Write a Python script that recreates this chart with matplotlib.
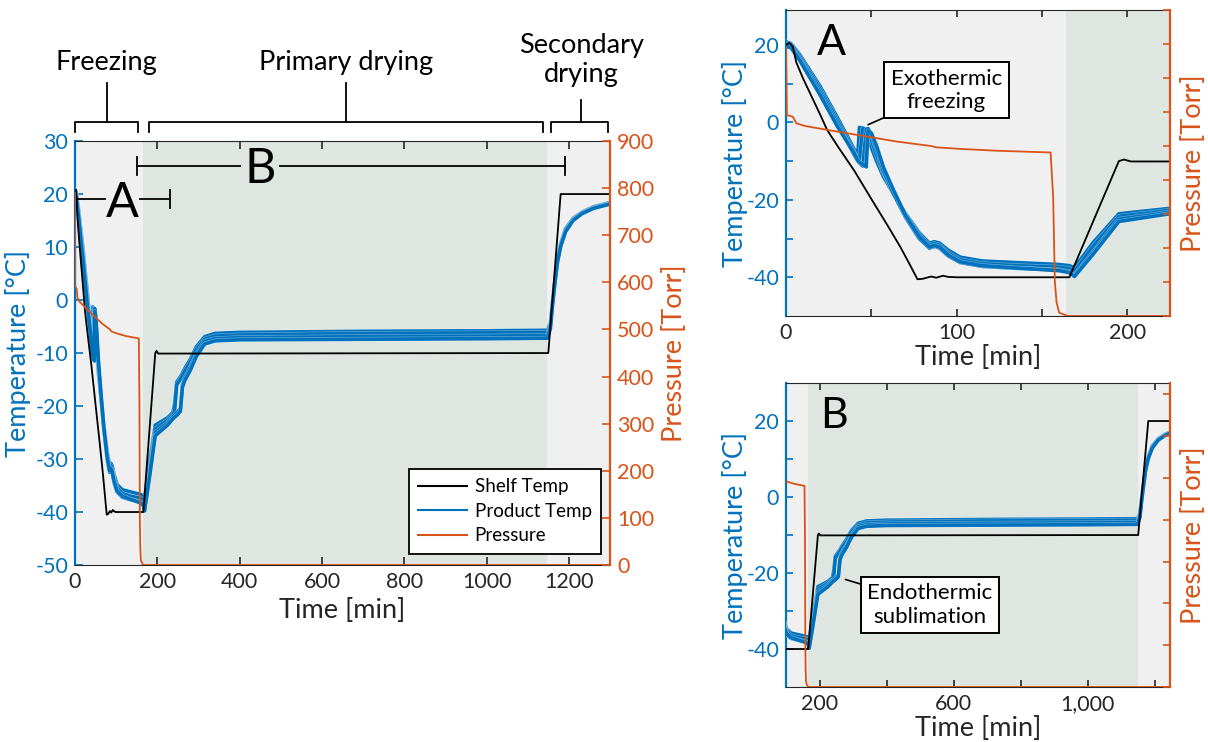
import matplotlib
matplotlib.use('Agg')
import matplotlib.pyplot as plt
import matplotlib.patheffects as pe
import matplotlib.transforms as mtransforms

plt.rcParams['font.family'] = ['Lato', 'DejaVu Sans']
plt.rcParams['axes.unicode_minus'] = False

BLUE = '#0072BD'
ORANGE = '#D95319'
DARK = '#262626'
LIGHT_BG = '#F0F0F0'
PRIMARY_BG = '#DFE6E2'

# shelf temperature [min], [degC]
shelf_t = [0, 2, 4, 6, 10, 20, 24, 30, 40, 50, 55, 60, 67, 72, 77, 80, 85, 88, 92, 95, 100, 130,
           166, 180, 195, 198, 202, 1147, 1150, 1180, 1300]
shelf_T = [20, 20.5, 19.5, 15.5, 11.3, 2, -1.9, -6, -12.5, -19.8, -23.4, -27, -32.2, -36.3, -40.5,
           -40.4, -39.8, -40.1, -39.6, -39.9, -40, -40, -40, -25.5, -10, -9.6, -10.1, -10, -10, 20, 20]

# product temperature, four probes
prod_t = [0, 3, 8, 20, 30, 40, 42, 43, 45, 47,
          48, 50, 53, 57, 63, 70, 78, 84, 87, 90,
          95, 102, 115, 135, 160, 166, 169, 180, 195, 225,
          238, 242, 247, 256, 261, 266, 280, 295, 315, 340,
          400, 700, 1000, 1148, 1155, 1160, 1165, 1172, 1180, 1192,
          1210, 1232, 1260, 1300]
prod_1 = [20.8, 20.3, 17.5, 9.3, 1.3, -7.0, -8.8, -1.3, -1.5, -2.5,
          -3.5, -6.5, -10, -14, -18.5, -23.5, -28.5, -31.2, -30.8, -31.2,
          -33, -34.8, -35.8, -36.2, -36.7, -37, -37.5, -31, -23.6, -22.2,
          -21.2, -19.5, -15.5, -14.5, -13.8, -13, -11.2, -8.8, -6.9, -6.3,
          -6.1, -5.9, -5.8, -5.7, -4.2, -0.3, 3.2, 7.7, 10.7, 13.5,
          15.4, 16.6, 17.6, 18.4]
prod_2 = [20.4, 20, 17, 8.5, 0.5, -7.8, -9.5, -10, -1.5, -1.8,
          -2.5, -4.5, -8.5, -13, -18, -23.8, -29, -31.8, -31.3, -31.8,
          -33.8, -35.5, -36.5, -37, -37.4, -37.8, -38.5, -32, -24.3, -22.7,
          -21.6, -21, -16, -15, -14.3, -13.5, -11.8, -9.3, -7.4, -6.8,
          -6.6, -6.3, -6.2, -6.1, -4.6, -0.6, 3, 7.5, 10.5, 13.3,
          15.2, 16.5, 17.5, 18.3]
prod_3 = [20, 19.6, 16.4, 7.8, -0.3, -8.5, -10, -10.5, -11.3, -1.8,
          -1.6, -3, -7, -12.5, -18.5, -24.5, -30, -32.5, -32, -32.5,
          -34.5, -36.2, -37.2, -37.7, -38.1, -38.6, -39.5, -33.5, -25, -23.2,
          -22, -21.7, -21.3, -20.5, -16, -14.8, -12.8, -10.2, -7.8, -7.3,
          -7.1, -6.9, -6.8, -6.7, -5, -0.9, 2.7, 7.2, 10.3, 13.1,
          15.1, 16.4, 17.4, 18.2]
prod_4 = [19.6, 19.2, 16, 7, -1, -8, -9.8, -10.3, -10.8, -11.5,
          -2.2, -2.8, -6, -11.5, -17.5, -24, -29.5, -32.2, -31.8, -32.2,
          -34.2, -36, -37, -37.6, -38.3, -38.8, -39.8, -34, -25.6, -23.6,
          -22.4, -22.1, -21.8, -21, -16.5, -15.3, -13.3, -10.6, -8.3, -7.7,
          -7.5, -7.4, -7.3, -7.2, -5.4, -1.2, 2.4, 7, 10.1, 12.9,
          15, 16.3, 17.3, 18.1]
products = [prod_1, prod_2, prod_3, prod_4]

# chamber pressure [Torr]
press_t = [0, 0.5, 4, 6, 11, 27, 46, 65, 85, 88, 104, 124, 155, 156.5, 157.5, 158.5, 160, 165, 1300]
press_v = [790, 591, 586, 567, 559, 545, 529, 513, 500, 496, 491, 486, 481, 350, 100, 40, 10, 0.1, 0.1]

# phase boundaries [min]
freeze_end = 164
primary_end = 1148
run_end = 1300


def shade_phases(ax):
    ax.axvspan(0, freeze_end, color=LIGHT_BG, lw=0, zorder=0)
    ax.axvspan(freeze_end, primary_end, color=PRIMARY_BG, lw=0, zorder=0)
    ax.axvspan(primary_end, run_end + 100, color=LIGHT_BG, lw=0, zorder=0)


def draw_traces(ax, ax2):
    halo = [pe.withStroke(linewidth=3.4, foreground='white', alpha=0.45)]
    for k, temps in enumerate(products):
        ax.plot(prod_t, temps, color=BLUE, lw=2.6, path_effects=halo, zorder=3,
                label='Product Temp' if k == 0 else None)
    ax.plot(shelf_t, shelf_T, color='black', lw=1.3, zorder=4, label='Shelf Temp')
    ax2.plot(press_t, press_v, color=ORANGE, lw=1.3, zorder=5, label='Pressure')


def style_axes(ax, ax2, tick_len):
    for side in ['top', 'bottom']:
        ax.spines[side].set_color(DARK)
        ax2.spines[side].set_visible(False)
    ax.spines['left'].set_color(BLUE)
    ax.spines['left'].set_linewidth(1.6)
    ax.spines['right'].set_visible(False)
    ax2.spines['left'].set_visible(False)
    ax2.spines['right'].set_color(ORANGE)
    ax2.spines['right'].set_linewidth(1.6)
    ax.tick_params(axis='x', direction='in', top=True, colors=DARK, length=tick_len, width=1.2,
                   labelsize=15.5, pad=5)
    ax.tick_params(axis='y', direction='in', colors=BLUE, length=tick_len, width=1.2,
                   labelsize=15.5, pad=5)
    ax2.tick_params(axis='y', direction='in', colors=ORANGE, length=tick_len, width=1.2,
                    labelsize=15.5, pad=5)
    ax.set_xlabel('Time [min]', fontsize=19.5, color=DARK)
    ax.set_ylabel('Temperature [°C]', fontsize=19.5, color=BLUE)
    ax2.set_ylabel('Pressure [Torr]', fontsize=19.5, color=ORANGE)
    ax.xaxis.label.set_va('center')
    ax.yaxis.label.set_va('center')
    ax2.yaxis.label.set_va('center')


fig = plt.figure(figsize=(12.08, 7.42), dpi=100)

# ---------------- main panel ----------------
ax = fig.add_axes([0.0621, 0.2385, 0.4429, 0.5714])
ax2 = ax.twinx()
shade_phases(ax)
draw_traces(ax, ax2)
ax.set_xlim(0, run_end)
ax.set_ylim(-50, 30)
ax2.set_ylim(0, 900)
ax.set_xticks(range(0, 1301, 200))
ax.set_yticks(range(-50, 31, 10))
ax2.set_yticks(range(0, 901, 100))
style_axes(ax, ax2, 6)
ax.xaxis.set_label_coords(0.5, -0.108)
ax.yaxis.set_label_coords(-0.107, 0.5)
ax2.yaxis.set_label_coords(1.12, 0.5)

h1, l1 = ax.get_legend_handles_labels()
h2, l2 = ax2.get_legend_handles_labels()
handles = dict(zip(l1 + l2, h1 + h2))
order = ['Shelf Temp', 'Product Temp', 'Pressure']
leg = ax2.legend([handles[k] for k in order], order, loc='lower right',
                 bbox_to_anchor=(0.983, 0.027), fontsize=13.5, frameon=True, fancybox=False,
                 edgecolor='black', framealpha=1, borderaxespad=0, handlelength=2.6,
                 handletextpad=0.4, labelspacing=0.4, borderpad=0.5)
leg.get_frame().set_linewidth(1.3)
for line in leg.get_lines():
    line.set_linewidth(1.5)
    line.set_path_effects([])

# range bars for the insets
bar_kw = dict(color='black', lw=1.3, clip_on=False, zorder=6)
ax.plot([2, 73], [19.1, 19.1], **bar_kw)
ax.plot([158, 232], [19.1, 19.1], **bar_kw)
ax.plot([2, 2], [17.4, 20.8], **bar_kw)
ax.plot([232, 232], [17.4, 20.8], **bar_kw)
ax.text(116, 15.7, 'A', fontsize=35, ha='center', va='baseline', zorder=6)
ax.plot([150, 400], [25.3, 25.3], **bar_kw)
ax.plot([497, 1190], [25.3, 25.3], **bar_kw)
ax.plot([150, 150], [23.6, 27.0], **bar_kw)
ax.plot([1190, 1190], [23.6, 27.0], **bar_kw)
ax.text(451, 22.0, 'B', fontsize=35, ha='center', va='baseline', zorder=6)

# phase brackets above the main panel
trans = mtransforms.blended_transform_factory(ax.transData, ax.transAxes)
phases = [('Freezing', 0, 153, 77, 1.137, 1.186),
          ('Primary drying', 179, 1136, 659, 1.137, 1.186),
          ('Secondary\ndrying', 1157, 1295, 1230, 1.097, 1.19)]
for name, x0, x1, xm, stem_top, text_y in phases:
    ax.plot([x0, x0, x1, x1], [1.0212, 1.0448, 1.0448, 1.0212], color='black', lw=1.3,
            transform=trans, clip_on=False)
    ax.plot([xm, xm], [1.0448, stem_top], color='black', lw=1.3, transform=trans, clip_on=False)
    ax.text(xm, text_y, name, transform=trans, ha='center', va='center', fontsize=19.5,
            color='black', linespacing=1.2)

# ---------------- inset A ----------------
axa = fig.add_axes([0.6507, 0.5741, 0.3179, 0.4124])
axa2 = axa.twinx()
shade_phases(axa)
draw_traces(axa, axa2)
axa.set_xlim(0, 225)
axa.set_ylim(-50, 29)
axa2.set_ylim(0, 900)
axa.set_xticks(range(0, 201, 50))
axa.set_xticklabels(['0', '', '100', '', '200'])
axa.set_yticks(range(-40, 21, 10))
axa.set_yticklabels(['-40', '', '-20', '', '0', '', '20'])
axa2.set_yticks(range(0, 901, 100))
axa2.set_yticklabels([])
style_axes(axa, axa2, 5)
axa.xaxis.set_label_coords(0.5, -0.135)
axa.yaxis.set_label_coords(-0.133, 0.5)
axa2.yaxis.set_label_coords(1.062, 0.5)
axa.text(26.7, 17.4, 'A', fontsize=31, ha='center', va='baseline', zorder=6)
axa.annotate('Exothermic\nfreezing', xy=(48.1, -0.6), xytext=(94, 8.3), ha='center', va='center',
             fontsize=16, linespacing=1.2, zorder=7,
             bbox=dict(boxstyle='square,pad=0.3', fc='white', ec='black', lw=1.4),
             arrowprops=dict(arrowstyle='-', color='black', lw=1.2, shrinkA=0, shrinkB=0))

# ---------------- inset B ----------------
axb = fig.add_axes([0.6507, 0.0741, 0.3179, 0.4097])
axb2 = axb.twinx()
shade_phases(axb)
draw_traces(axb, axb2)
axb.set_xlim(100, 1245)
axb.set_ylim(-50, 30)
axb2.set_ylim(0, 727)
axb.set_xticks(range(200, 1201, 200))
axb.set_xticklabels(['200', '', '600', '', '1,000', ''])
axb.set_yticks(range(-40, 21, 10))
axb.set_yticklabels(['-40', '', '-20', '', '0', '', '20'])
axb2.set_yticks(range(0, 727, 100))
axb2.set_yticklabels([])
style_axes(axb, axb2, 5)
axb.xaxis.set_label_coords(0.5, -0.137)
axb.yaxis.set_label_coords(-0.133, 0.5)
axb2.yaxis.set_label_coords(1.062, 0.5)
axb.text(242, 18.1, 'B', fontsize=31, ha='center', va='baseline', zorder=6)
axb.annotate('Endothermic\nsublimation', xy=(277, -21.7), xytext=(529, -28.4), ha='center',
             va='center', fontsize=16, linespacing=1.2, zorder=7,
             bbox=dict(boxstyle='square,pad=0.3', fc='white', ec='black', lw=1.4),
             arrowprops=dict(arrowstyle='-', color='black', lw=1.2, shrinkA=0, shrinkB=0))

fig.savefig('out.png', dpi=100)
